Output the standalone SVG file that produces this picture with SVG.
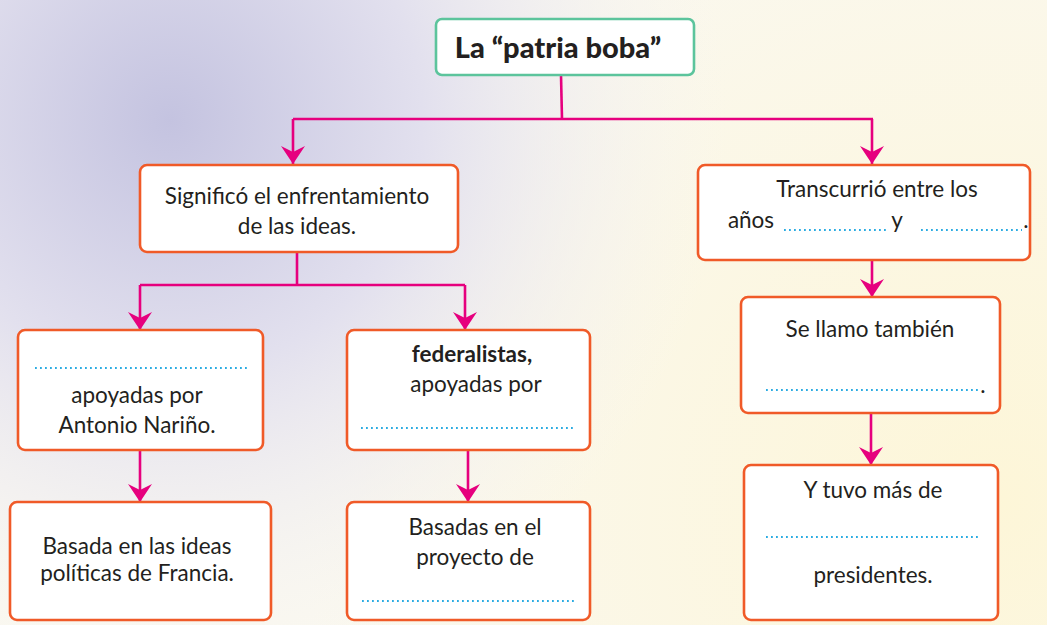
<svg xmlns="http://www.w3.org/2000/svg" width="1047" height="625" viewBox="0 0 1047 625">
<defs>
<radialGradient id="bgP" cx="170" cy="120" r="560" gradientUnits="userSpaceOnUse">
<stop offset="0" stop-color="#c4c3e0"/>
<stop offset="0.45" stop-color="#e2e0ee"/>
<stop offset="1" stop-color="#f7f5f2" stop-opacity="0"/>
</radialGradient>
<radialGradient id="bgY" cx="1000" cy="500" r="700" gradientUnits="userSpaceOnUse">
<stop offset="0" stop-color="#fdf6d8"/>
<stop offset="1" stop-color="#faf8f0"/>
</radialGradient>
<marker id="ah" viewBox="-1 -13 21 26" refX="18" refY="0" markerWidth="21" markerHeight="26" markerUnits="userSpaceOnUse" orient="auto">
<path d="M0,-12 L18,0 L0,12 L6,0 Z" fill="#e6007e"/>
</marker>
<style>
.box{fill:#ffffff;stroke:#f05a28;stroke-width:2.6}
.top{fill:#ffffff;stroke:#5cc49c;stroke-width:2.6}
.t{font-family:"Lato","Liberation Sans",sans-serif;font-size:22.5px;fill:#231f20;text-anchor:middle}
.b{font-weight:bold}
.h{font-size:29px;font-weight:900}
.c{fill:none;stroke:#e6007e;stroke-width:2.6}
.a{marker-end:url(#ah)}
.dot{stroke:#29abe2;stroke-width:2.2;stroke-dasharray:1.8 3.2;fill:none}
</style>
</defs>
<rect width="1047" height="625" fill="url(#bgY)"/>
<rect width="1047" height="625" fill="url(#bgP)"/>

<g id="connectors">
<path class="c" d="M561,75 L562,119"/>
<path class="c" d="M293,119 L873,119"/>
<path class="c a" d="M293,119 L293,164"/>
<path class="c a" d="M872,119 L872,164"/>
<path class="c" d="M297,252 L297,285"/>
<path class="c" d="M140,285 L465,285"/>
<path class="c a" d="M140,285 L140,330"/>
<path class="c a" d="M465,285 L465,330"/>
<path class="c a" d="M140,450 L140,502"/>
<path class="c a" d="M468,450 L468,502"/>
<path class="c a" d="M872,260 L872,297"/>
<path class="c a" d="M871,413 L871,465"/>
</g>

<g id="n-top">
<rect class="top" x="436" y="19" width="258" height="56" rx="6"/>
<text class="t h" x="558" y="58">La “patria boba”</text>
</g>

<g id="n-significo">
<rect class="box" x="140" y="165" width="318" height="87" rx="7"/>
<text class="t" x="297" y="204">Significó el enfrentamiento</text>
<text class="t" x="297" y="234">de las ideas.</text>
</g>

<g id="n-transcurrio">
<rect class="box" x="698" y="165" width="332" height="95" rx="7"/>
<text class="t" x="877" y="197">Transcurrió entre los</text>
<text class="t" x="751" y="228">años</text>
<line class="dot" x1="784" y1="230" x2="887" y2="230"/>
<text class="t" x="897" y="228">y</text>
<line class="dot" x1="921" y1="230" x2="1022" y2="230"/>
<text class="t" x="1026" y="228">.</text>
</g>

<g id="n-centralistas">
<rect class="box" x="18" y="330" width="245" height="120" rx="7"/>
<line class="dot" x1="35" y1="368" x2="249" y2="368"/>
<text class="t" x="137" y="403">apoyadas por</text>
<text class="t" x="137" y="433">Antonio Nariño.</text>
</g>

<g id="n-federalistas">
<rect class="box" x="347" y="330" width="243" height="120" rx="7"/>
<text class="t b" x="472" y="362">federalistas,</text>
<text class="t" x="476" y="392">apoyadas por</text>
<line class="dot" x1="361" y1="428" x2="575" y2="428"/>
</g>

<g id="n-sellamo">
<rect class="box" x="741" y="297" width="259" height="116" rx="7"/>
<text class="t" x="870" y="337">Se llamo también</text>
<line class="dot" x1="766" y1="390" x2="980" y2="390"/>
<text class="t" x="983" y="393">.</text>
</g>

<g id="n-basada">
<rect class="box" x="10" y="502" width="261" height="118" rx="7"/>
<text class="t" x="137" y="554">Basada en las ideas</text>
<text class="t" x="137" y="581">políticas de Francia.</text>
</g>

<g id="n-basadas">
<rect class="box" x="347" y="502" width="243" height="118" rx="7"/>
<text class="t" x="475" y="535">Basadas en el</text>
<text class="t" x="475" y="565">proyecto de</text>
<line class="dot" x1="362" y1="601" x2="575" y2="601"/>
</g>

<g id="n-presidentes">
<rect class="box" x="744" y="465" width="254" height="155" rx="7"/>
<text class="t" x="873" y="498">Y tuvo más de</text>
<line class="dot" x1="766" y1="537" x2="980" y2="537"/>
<text class="t" x="873" y="583">presidentes.</text>
</g>
</svg>
